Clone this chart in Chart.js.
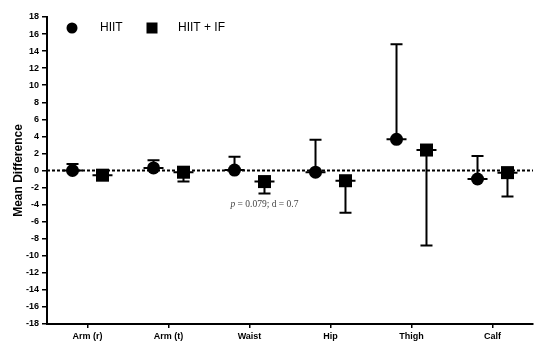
<!DOCTYPE html>
<html>
<head>
<meta charset="utf-8">
<script src="https://cdn.jsdelivr.net/npm/chart.js@4"></script>
<style>
  html, body { margin: 0; padding: 0; background: #fff; }
  #wrap { width: 550px; height: 353px; }
</style>
</head>
<body>
<div id="wrap"><canvas id="chart" width="550" height="353"></canvas></div>
<script>
// data
var sites = ['Arm (r)', 'Arm (t)', 'Waist', 'Hip', 'Thigh', 'Calf'];
var hiitMean = [0.0, 0.3, 0.05, -0.2, 3.65, -1.0];
var hiitUpper = [0.75, 1.2, 1.6, 3.6, 14.8, 1.7];     // upper end of error bar
var hiitIfMean = [-0.55, -0.2, -1.3, -1.2, 2.4, -0.25];
var hiitIfLower = [-1.0, -1.3, -2.7, -4.95, -8.8, -3.05]; // lower end of error bar
var yTicks = { min: -18, max: 18, step: 2 };
var shift = 0.185; // side-by-side offset inside a category

var hiitPts = hiitMean.map(function (v, i) { return { x: i - shift, y: v }; });
var ifPts = hiitIfMean.map(function (v, i) { return { x: i + shift, y: v }; });

// error bars, zero line, legend and note
var extras = {
  id: 'extras',
  beforeDatasetsDraw: function (chart) {
    var ctx = chart.ctx, xs = chart.scales.x, ys = chart.scales.y, area = chart.chartArea;
    ctx.save();
    // dotted zero line
    ctx.strokeStyle = '#000';
    ctx.lineWidth = 2;
    ctx.setLineDash([3, 2]);
    var y0 = ys.getPixelForValue(0);
    ctx.beginPath();
    ctx.moveTo(area.left, y0);
    ctx.lineTo(area.right, y0);
    ctx.stroke();
    ctx.setLineDash([]);

    function bar(x, mean, end) {
      var px = xs.getPixelForValue(x);
      var pm = ys.getPixelForValue(mean);
      var pe = ys.getPixelForValue(end);
      ctx.beginPath();
      ctx.moveTo(px, pm); ctx.lineTo(px, pe);
      ctx.moveTo(px - 6, pe); ctx.lineTo(px + 6, pe);
      ctx.moveTo(px - 10, pm); ctx.lineTo(px + 10, pm);
      ctx.stroke();
    }
    for (var i = 0; i < sites.length; i++) {
      bar(i - shift, hiitMean[i], hiitUpper[i]);
      bar(i + shift, hiitIfMean[i], hiitIfLower[i]);
    }
    ctx.restore();
  },
  afterDraw: function (chart) {
    var ctx = chart.ctx, xs = chart.scales.x, ys = chart.scales.y, area = chart.chartArea;
    ctx.save();
    // legend
    var ly = area.top + 11;
    ctx.fillStyle = '#000';
    ctx.beginPath();
    ctx.arc(area.left + 25, ly, 5.5, 0, Math.PI * 2);
    ctx.fill();
    ctx.fillRect(area.left + 105 - 5.5, ly - 5.5, 11, 11);
    ctx.font = '12px "Liberation Sans", Arial, sans-serif';
    ctx.textBaseline = 'middle';
    ctx.textAlign = 'left';
    ctx.fillText('HIIT', area.left + 53, ly);
    ctx.fillText('HIIT + IF', area.left + 131, ly);

    // note under the waist comparison
    var nx = xs.getPixelForValue(2 + shift);
    var ny = ys.getPixelForValue(-4.0);
    ctx.fillStyle = '#444';
    var italic = 'italic 9.5px "Liberation Serif", "Times New Roman", serif';
    var roman = '9.5px "Liberation Serif", "Times New Roman", serif';
    ctx.font = italic;
    var w1 = ctx.measureText('p').width;
    ctx.font = roman;
    var rest = ' = 0.079; d = 0.7';
    var w2 = ctx.measureText(rest).width;
    var sx = nx - (w1 + w2) / 2;
    ctx.font = italic;
    ctx.fillText('p', sx, ny);
    ctx.font = roman;
    ctx.fillText(rest, sx + w1, ny);
    ctx.restore();
  }
};

var ctx = document.getElementById('chart').getContext('2d');
var myChart = new Chart(ctx, {
  type: 'scatter',
  data: {
    datasets: [{
      label: 'HIIT',
      data: hiitPts,
      pointStyle: 'circle',
      pointRadius: 6.5,
      pointHoverRadius: 6.5,
      backgroundColor: '#000',
      borderColor: '#000',
      borderWidth: 0
    }, {
      label: 'HIIT + IF',
      data: ifPts,
      pointStyle: 'rect',
      pointRadius: 9.2,
      pointHoverRadius: 9.2,
      backgroundColor: '#000',
      borderColor: '#000',
      borderWidth: 0
    }]
  },
  options: {
    responsive: false,
    animation: false,
    layout: { padding: { top: 17, right: 17, left: 0, bottom: 0 } },
    plugins: {
      legend: { display: false },
      tooltip: { enabled: false }
    },
    scales: {
      x: {
        type: 'linear',
        min: -0.5,
        max: sites.length - 0.5,
        afterBuildTicks: function (scale) {
          scale.ticks = sites.map(function (s, i) { return { value: i }; });
        },
        afterFit: function (scale) { scale.height = 29; },
        ticks: {
          color: '#000',
          font: { family: '"Liberation Sans", Arial, sans-serif', size: 9, weight: 'bold' },
          padding: 3,
          maxRotation: 0,
          autoSkip: false,
          callback: function (v) { return sites[v]; }
        },
        grid: { drawOnChartArea: false, drawTicks: true, tickLength: 4, color: '#000', lineWidth: 1.5 },
        border: { color: '#000', width: 2 }
      },
      y: {
        min: yTicks.min,
        max: yTicks.max,
        afterFit: function (scale) { scale.width = 47; },
        ticks: {
          stepSize: yTicks.step,
          color: '#000',
          font: { family: '"Liberation Sans", Arial, sans-serif', size: 9, weight: 'bold' },
          padding: 3
        },
        grid: { drawOnChartArea: false, drawTicks: true, tickLength: 5, color: '#000', lineWidth: 1.5 },
        border: { color: '#000', width: 2 },
        title: {
          display: true,
          text: 'Mean Difference',
          color: '#000',
          font: { family: '"Liberation Sans", Arial, sans-serif', size: 12, weight: 'bold' },
          padding: { top: 11, bottom: 0 }
        }
      }
    }
  },
  plugins: [extras]
});
</script>
</body>
</html>
